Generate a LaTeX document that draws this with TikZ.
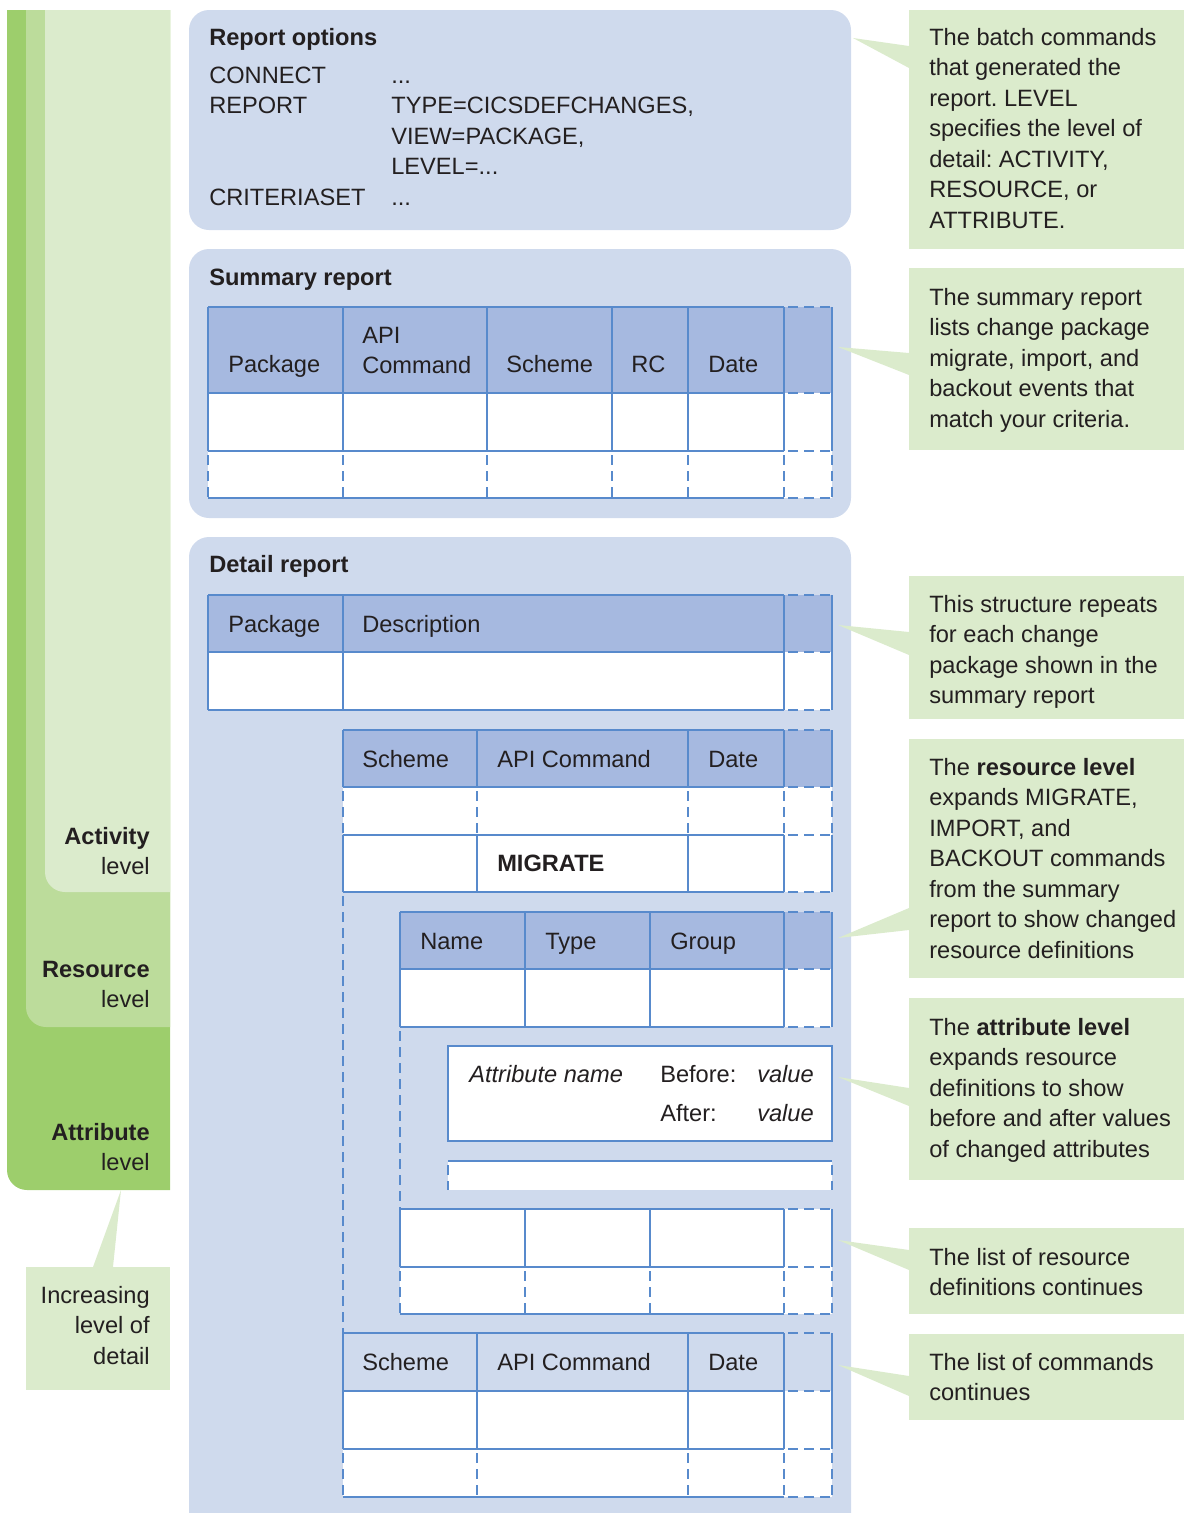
\documentclass[tikz,border=0pt]{standalone}
\usepackage{fontspec}
\setmainfont{Liberation Sans}
\frenchspacing
\definecolor{panelblue}{RGB}{207,218,237}
\definecolor{headblue}{RGB}{166,185,224}
\definecolor{gridblue}{RGB}{88,138,204}
\definecolor{notegreen}{RGB}{219,235,204}
\definecolor{midgreen}{RGB}{188,220,155}
\definecolor{deepgreen}{RGB}{157,206,108}
\definecolor{ink}{RGB}{35,31,32}
\newcommand{\txtsize}{\fontsize{16.8}{21.7}\selectfont}
\newcommand{\lns}[2][l]{\begin{tabular}[t]{@{}#1@{}}#2\end{tabular}}

\begin{document}
\begin{tikzpicture}[
    x=0.025cm, y=-0.025cm,
    panel/.style={fill=panelblue, rounded corners=0.5cm},
    head/.style={fill=headblue},
    grid/.style={draw=gridblue, line width=1pt},
    cont/.style={grid, dash pattern=on 0.25cm off 0.15cm, dash phase=0.3cm},
    note/.style={fill=notegreen},
    txt/.style={font=\txtsize, text=ink, inner sep=0pt, anchor=base west},
  ]
  \useasboundingbox (0,0) rectangle (1184,1513);

  % Level bars
  \begin{scope}
    \clip (0,10) rectangle (170,1513);
    \fill[deepgreen, rounded corners=0.5cm] (7,-20) rectangle (200,1190);
    \fill[midgreen, rounded corners=0.5cm] (26,-20) rectangle (200,1027);
    \fill[notegreen, rounded corners=0.5cm] (45,-20) rectangle (200,892);
  \end{scope}
  \node[txt, anchor=base east] (lv-act) at (150,844) {\lns[r]{\textbf{Activity}\\level}};
  \node[txt, anchor=base east] (lv-res) at (150,977) {\lns[r]{\textbf{Resource}\\level}};
  \node[txt, anchor=base east] (lv-att) at (150,1140) {\lns[r]{\textbf{Attribute}\\level}};
  \fill[note] (26,1267) rectangle (170,1390);
  \fill[note] (93,1267) -- (121,1190) -- (113,1267) -- cycle;
  \node[txt, anchor=base east] (lv-inc) at (150,1303) {\lns[r]{Increasing\\level of\\detail}};

  % Panels
  \fill[panel] (189,10) rectangle (851,230);
  \fill[panel] (189,249) rectangle (851,518);
  \fill[panel] (189,1513) -- (189,537) -- (851,537) -- (851,1513);

  % Report options
  \node[txt] (ro-title) at (209,45) {\textbf{Report options}};
  \node[txt] (ro-body) at (209,83) {\begin{tabular}[t]{@{}p{4.55cm}@{}l@{}}
      CONNECT & ...\\
      REPORT & TYPE=CICSDEFCHANGES,\\
      & VIEW=PACKAGE,\\
      & LEVEL=...\\
      CRITERIASET & ...
    \end{tabular}};

  % Summary report
  \node[txt] (sr-title) at (209,285) {\textbf{Summary report}};
  \fill[head] (208,307) rectangle (832,393);
  \fill[white] (208,393) rectangle (832,498);
  \foreach \y in {307,393,451,498} {
    \draw[grid] (208,\y) -- (784,\y);
    \draw[cont] (784,\y) -- (832,\y);
  }
  \foreach \x in {208,343,487,612,688,784,832} {
    \draw[grid] (\x,307) -- (\x,451);
    \draw[cont] (\x,451) -- (\x,498);
  }
  \node[txt] (sr-pkg) at (228,372) {Package};
  \node[txt] (sr-api) at (362,343) {\lns{API\\Command}};
  \node[txt] (sr-sch) at (506,372) {Scheme};
  \node[txt] (sr-rc) at (631,372) {RC};
  \node[txt] (sr-date) at (708,372) {Date};

  % Detail report
  \node[txt] (dr-title) at (209,572) {\textbf{Detail report}};
  % package rows
  \fill[head] (208,595) rectangle (832,652);
  \fill[white] (208,652) rectangle (832,710);
  \foreach \y in {595,652,710} {
    \draw[grid] (208,\y) -- (784,\y);
    \draw[cont] (784,\y) -- (832,\y);
  }
  \foreach \x in {208,343,784,832}
    \draw[grid] (\x,595) -- (\x,710);
  \node[txt] (pk-pkg) at (228,632) {Package};
  \node[txt] (pk-desc) at (362,632) {Description};

  % command rows
  \fill[head] (343,730) rectangle (832,787);
  \fill[white] (343,787) rectangle (832,892);
  \foreach \y in {730,787,835,892} {
    \draw[grid] (343,\y) -- (784,\y);
    \draw[cont] (784,\y) -- (832,\y);
  }
  \foreach \x in {343,477,688,784,832} {
    \draw[grid] (\x,730) -- (\x,787);
    \draw[cont] (\x,787) -- (\x,835);
    \draw[grid] (\x,835) -- (\x,892);
  }
  \draw[cont] (343,892) -- (343,1333);
  \node[txt] (cm-sch) at (362,767) {Scheme};
  \node[txt] (cm-api) at (497,767) {API Command};
  \node[txt] (cm-date) at (708,767) {Date};
  \node[txt] (cm-mig) at (497,871) {\textbf{MIGRATE}};

  % resource rows
  \fill[head] (400,912) rectangle (832,969);
  \fill[white] (400,969) rectangle (832,1027);
  \foreach \y in {912,969,1027} {
    \draw[grid] (400,\y) -- (784,\y);
    \draw[cont] (784,\y) -- (832,\y);
  }
  \foreach \x in {400,525,650,784,832}
    \draw[grid] (\x,912) -- (\x,1027);
  \draw[cont] (400,1027) -- (400,1209);
  \node[txt] (rs-name) at (420,949) {Name};
  \node[txt] (rs-type) at (545,949) {Type};
  \node[txt] (rs-grp) at (670,949) {Group};

  % attribute rows
  \draw[grid, fill=white] (448,1046) rectangle (832,1141);
  \node[txt] (at-name) at (469,1082) {\textit{Attribute name}};
  \node[txt] (at-bef) at (660,1082) {Before:};
  \node[txt] (at-bval) at (757,1082) {\textit{value}};
  \node[txt] (at-aft) at (660,1121) {After:};
  \node[txt] (at-aval) at (757,1121) {\textit{value}};
  \fill[white] (448,1161) rectangle (832,1190);
  \draw[grid] (448,1161) -- (832,1161);
  \draw[cont] (448,1161) -- (448,1190);
  \draw[cont] (832,1161) -- (832,1190);

  % more resource rows
  \fill[white] (400,1209) rectangle (832,1314);
  \foreach \y in {1209,1267,1314} {
    \draw[grid] (400,\y) -- (784,\y);
    \draw[cont] (784,\y) -- (832,\y);
  }
  \foreach \x in {400,525,650,784,832} {
    \draw[grid] (\x,1209) -- (\x,1267);
    \draw[cont] (\x,1267) -- (\x,1314);
  }

  % more command rows
  \fill[white] (343,1391) rectangle (832,1497);
  \foreach \y in {1333,1391,1449,1497} {
    \draw[grid] (343,\y) -- (784,\y);
    \draw[cont] (784,\y) -- (832,\y);
  }
  \foreach \x in {343,477,688,784,832} {
    \draw[grid] (\x,1333) -- (\x,1449);
    \draw[cont] (\x,1449) -- (\x,1497);
  }
  \node[txt] (cn-sch) at (362,1370) {Scheme};
  \node[txt] (cn-api) at (497,1370) {API Command};
  \node[txt] (cn-date) at (708,1370) {Date};

  % Notes
  \fill[note] (909,10) rectangle (1184,249);
  \fill[note] (853,38) -- (909,46) -- (909,68) -- cycle;
  \node[txt] (nt-batch) at (929,45) {\lns{The batch commands\\that generated the\\report. LEVEL\\specifies the level of\\detail: ACTIVITY,\\RESOURCE, or\\ATTRIBUTE.}};

  \fill[note] (909,268) rectangle (1184,450);
  \fill[note] (838,347) -- (909,353) -- (909,375) -- cycle;
  \node[txt] (nt-sum) at (929,305) {\lns{The summary report\\lists change package\\migrate, import, and\\backout events that\\match your criteria.}};

  \fill[note] (909,576) rectangle (1184,719);
  \fill[note] (838,625) -- (909,632) -- (909,655) -- cycle;
  \node[txt] (nt-rep) at (929,612) {\lns{This structure repeats\\for each change\\package shown in the\\summary report}};

  \fill[note] (909,739) rectangle (1184,978);
  \fill[note] (838,938) -- (909,908) -- (909,930) -- cycle;
  \node[txt] (nt-res) at (929,775) {\lns{The \textbf{resource level}\\expands MIGRATE,\\IMPORT, and\\BACKOUT commands\\from the summary\\report to show changed\\resource definitions}};

  \fill[note] (909,998) rectangle (1184,1180);
  \fill[note] (838,1077) -- (909,1088) -- (909,1106) -- cycle;
  \node[txt] (nt-att) at (929,1035) {\lns{The \textbf{attribute level}\\expands resource\\definitions to show\\before and after values\\of changed attributes}};

  \fill[note] (909,1228) rectangle (1184,1314);
  \fill[note] (838,1240) -- (909,1250) -- (909,1270) -- cycle;
  \node[txt] (nt-rl) at (929,1265) {\lns{The list of resource\\definitions continues}};

  \fill[note] (909,1334) rectangle (1184,1420);
  \fill[note] (838,1365) -- (909,1376) -- (909,1396) -- cycle;
  \node[txt] (nt-cl) at (929,1370) {\lns{The list of commands\\continues}};
\end{tikzpicture}
\end{document}
